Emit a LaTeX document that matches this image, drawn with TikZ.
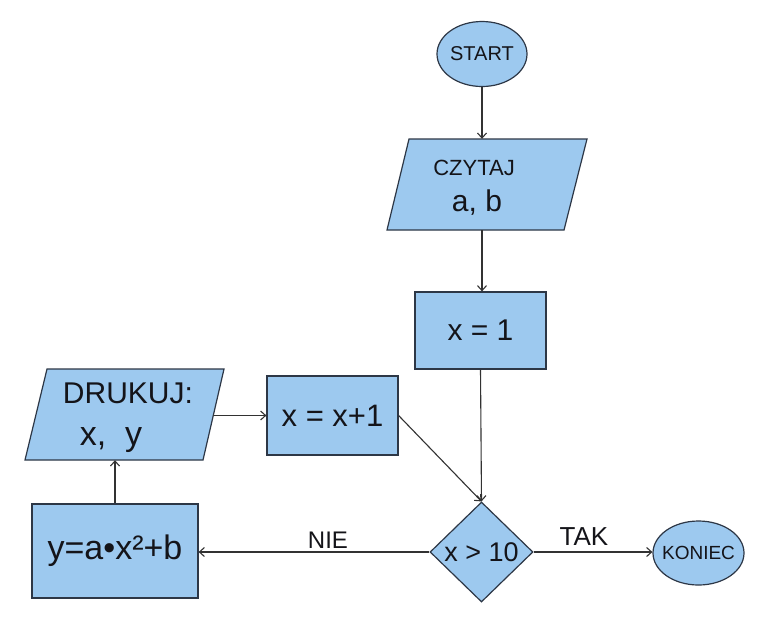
\documentclass[tikz,border=0pt]{standalone}
\usepackage{fontspec}
\setmainfont{Liberation Sans}
\usetikzlibrary{shapes.geometric,arrows.meta}
\definecolor{boxfill}{RGB}{157,201,239}
\definecolor{boxline}{RGB}{45,55,70}
\definecolor{arrowcol}{RGB}{50,50,50}
\definecolor{inkcol}{RGB}{20,20,25}
\newcommand{\fsz}[1]{\fontsize{#1}{#1}\selectfont}
\begin{document}
\begin{tikzpicture}[x=1pt,y=-1pt,
  shapebox/.style={draw=boxline,fill=boxfill,line width=1.2pt,inner sep=0pt,text=inkcol},
  rectbox/.style={shapebox,rectangle},
  ovalbox/.style={shapebox,ellipse},
  decbox/.style={shapebox,diamond},
  para/.style={draw=boxline,fill=boxfill,line width=1.2pt,line join=miter},
  anchorbox/.style={rectangle,inner sep=0pt},
  arr/.style={draw=arrowcol,line width=1.1pt,-{Straight Barb[length=5pt,width=9pt]}},
  lbl/.style={text=inkcol,inner sep=0pt}
]
\useasboundingbox (0,0) rectangle (779,641);
\fill[white] (0,0) rectangle (779,641);

% START
\node[ovalbox,minimum width=90pt,minimum height=65pt] (start) at (482,54) {\fsz{20}\makebox[0pt]{START}};

% CZYTAJ a, b (parallelogram)
\path[para] (409,139) -- (587,139) -- (564,230) -- (387,230) -- cycle;
\node[anchorbox,minimum width=176pt,minimum height=91pt] (czytaj) at (487,184.5) {};
\node[lbl] (czytajtxt) at (474,168) {\fsz{22}CZYTAJ};
\node[lbl] (czytajab) at (477,203) {\fsz{30}a, b};

% x = 1
\node[rectbox,minimum width=131pt,minimum height=77pt] (xone) at (480.5,330.5) {\fsz{30}x = 1};

% decision
\node[decbox,minimum width=103pt,minimum height=100pt] (cond) at (481.5,552) {\fsz{27}\makebox[0pt]{x > 10}};

% KONIEC
\node[ovalbox,minimum width=91pt,minimum height=64pt] (koniec) at (698.5,553) {\fsz{19}\makebox[0pt]{KONIEC}};

% y = a*x^2 + b
\node[rectbox,minimum width=166pt,minimum height=94pt] (ybox) at (115,551) {\fsz{34}\raisebox{-5pt}{y=a•x²+b}};

% DRUKUJ: x, y (parallelogram)
\path[para] (47,369) -- (224,369) -- (203,460) -- (25,460) -- cycle;
\node[anchorbox,minimum width=176pt,minimum height=91pt] (drukuj) at (124.75,414.5) {};
\node[lbl] (drukujtxt) at (128,393) {\fsz{30}DRUKUJ:};
\node[lbl] (drukujxy) at (111,440) {\fsz{34}x,\ \ y};

% x = x+1
\node[rectbox,minimum width=131pt,minimum height=79pt] (xinc) at (332.5,415.5) {\fsz{31}\raisebox{-4pt}{x = x+1}};

% connectors
\draw[arr] (start.south) -- (start.south |- czytaj.north);
\draw[arr] (start.south |- czytaj.south) -- (start.south |- xone.north);
\draw[arr] (xone.south) -- (cond.north);
\draw[arr] (cond.east) -- (cond.east -| koniec.west);
\draw[arr] (cond.west) -- (cond.west -| ybox.east);
\draw[arr] (ybox.north) -- (ybox.north |- drukuj.south);
\draw[arr] (drukuj.east |- xinc.west) -- (xinc.west);
\draw[arr] (xinc.east) -- (cond.north);

% labels
\node[lbl] (tak) at (584,537) {\fsz{26}TAK};
\node[lbl] (nie) at (328,540) {\fsz{24}NIE};
\end{tikzpicture}
\end{document}
